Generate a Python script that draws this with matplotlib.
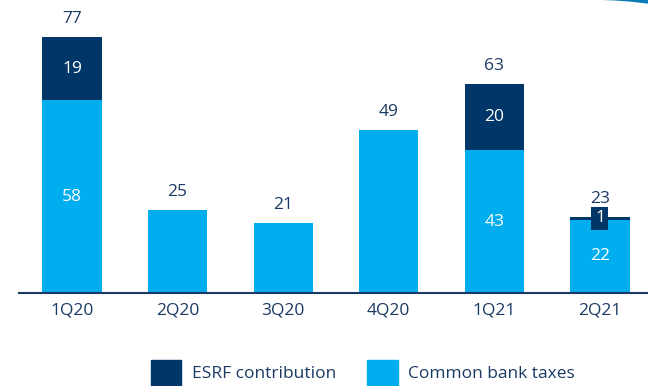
import matplotlib.pyplot as plt
import matplotlib.patches as mpatches
from matplotlib.patches import Arc

# Quarterly bank taxes, split into ESRF contribution and common taxes.

quarters = ['1Q20', '2Q20', '3Q20', '4Q20', '1Q21', '2Q21']
common = [58, 25, 21, 49, 43, 22]
esrf = [19, 0, 0, 0, 20, 1]
totals = [77, 25, 21, 49, 63, 23]

dark = '#003768'
light = '#00AEEF'
txt = '#1B3A63'

plt.rcParams['font.family'] = ['Open Sans', 'DejaVu Sans']

fig = plt.figure(figsize=(6.48, 3.86), dpi=100)
ax = fig.add_axes([19 / 648, 93 / 386, 629 / 648, 293 / 386])

x = list(range(len(quarters)))
w = 0.56
ax.bar(x, common, width=w, color=light, zorder=2)
ax.bar(x, esrf, width=w, bottom=common, color=dark, zorder=2)

fs = 12.5
for i in x:
    # segment values only on the stacked bars
    if esrf[i] > 0:
        ax.text(i, common[i] / 2, str(common[i]), ha='center', va='center',
                color='white', fontsize=fs)
    if esrf[i] >= 5:
        ax.text(i, common[i] + esrf[i] / 2, str(esrf[i]), ha='center',
                va='center', color='white', fontsize=fs)
    elif esrf[i] > 0:
        ax.text(i, common[i] + esrf[i] / 2, str(esrf[i]), ha='center',
                va='center', color='white', fontsize=fs, zorder=4,
                bbox=dict(boxstyle='square,pad=0.2', fc=dark, ec='none'))
    # totals above the bars
    ax.text(i, totals[i] + 5.4, str(totals[i]), ha='center', va='center',
            color=txt, fontsize=fs)

ax.set_xlim(-0.502, 5.455)
ax.set_ylim(0, 88.2)
ax.set_xticks(x)
ax.set_xticklabels(quarters, color=txt, fontsize=fs)
ax.tick_params(axis='x', length=0, pad=7)
ax.set_yticks([])
for s in ['top', 'right', 'left']:
    ax.spines[s].set_visible(False)
ax.spines['bottom'].set_color(txt)
ax.spines['bottom'].set_linewidth(1.5)

# decorative arc in the top right corner
arc = Arc((0.91, 1.005 - 4.0), 2.55, 8.0, theta1=84, theta2=90,
          transform=fig.transFigure, color='#0A7DB8', lw=2.5)
fig.add_artist(arc)

handles = [mpatches.Patch(color=dark, label='ESRF contribution'),
           mpatches.Patch(color=light, label='Common bank taxes')]
leg = fig.legend(handles=handles, loc='center', bbox_to_anchor=(0.56, 0.035),
                 ncol=2, frameon=False, fontsize=12.5, handlelength=1.75,
                 handleheight=1.8, handletextpad=0.6, columnspacing=1.8)
for t in leg.get_texts():
    t.set_color(txt)

fig.savefig('out.png', dpi=100)
